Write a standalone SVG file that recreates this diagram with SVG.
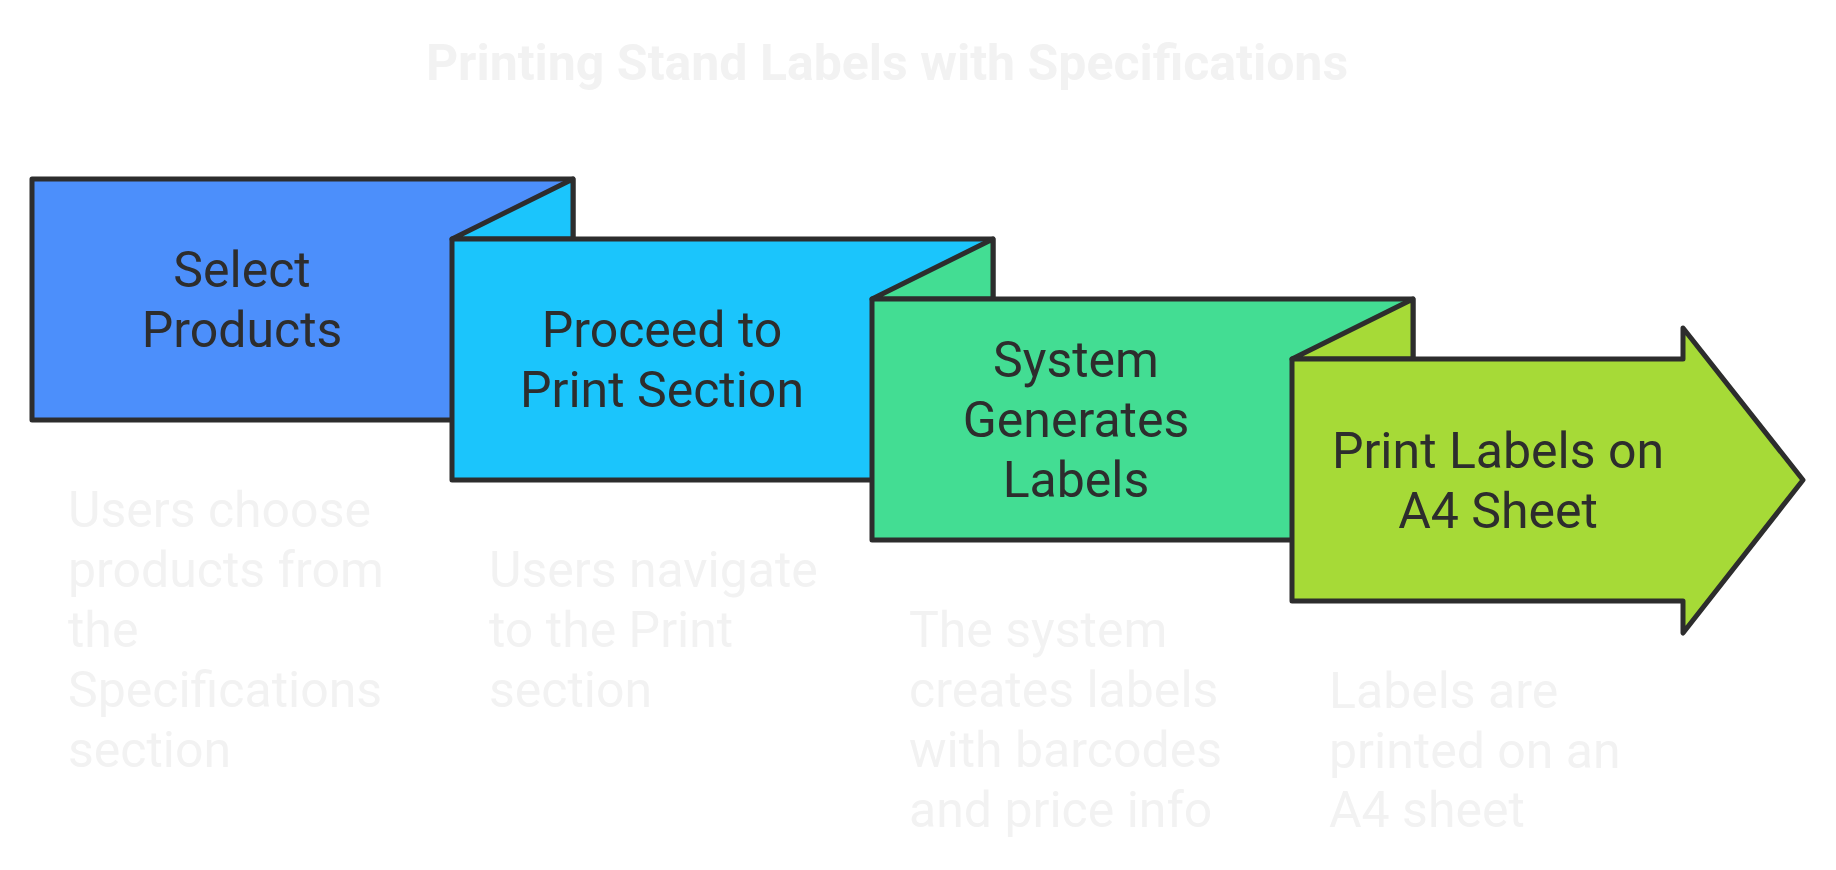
<svg xmlns="http://www.w3.org/2000/svg" width="1836" height="870" viewBox="0 0 1836 870">
<style>
.shape{stroke:#2d2d2d;stroke-width:5;stroke-linejoin:round}
.lbl{font-family:Roboto,"Liberation Sans",sans-serif;font-size:50px;fill:#2d2d2d;text-anchor:middle}
.desc{font-family:Roboto,"Liberation Sans",sans-serif;font-size:50px;fill:#f2f2f2}
.title{font-family:Roboto,"Liberation Sans",sans-serif;font-size:50px;font-weight:bold;fill:#f2f2f2;text-anchor:middle}
</style>
<rect width="1836" height="870" fill="#ffffff"/>
<text class="title" x="887" y="80">Printing Stand Labels with Specifications</text>
<g id="connectors"/>
<g id="node1">
<rect class="shape" x="32" y="179" width="541" height="241" fill="#4c8ffb"/>
<text class="lbl" x="242" y="287">Select</text>
<text class="lbl" x="242" y="347">Products</text>
<text class="desc" x="68" y="527">Users choose</text>
<text class="desc" x="68" y="587">products from</text>
<text class="desc" x="68" y="647">the</text>
<text class="desc" x="68" y="707">Specifications</text>
<text class="desc" x="68" y="767">section</text>
</g>
<g id="node2">
<path class="shape" d="M452,239 L573,179 L573,239 Z" fill="#1bc5fc"/>
<rect class="shape" x="452" y="239" width="541" height="241" fill="#1bc5fc"/>
<text class="lbl" x="662" y="347">Proceed to</text>
<text class="lbl" x="662" y="407">Print Section</text>
<text class="desc" x="489" y="587">Users navigate</text>
<text class="desc" x="489" y="647">to the Print</text>
<text class="desc" x="489" y="707">section</text>
</g>
<g id="node3">
<path class="shape" d="M872,299 L993,239 L993,299 Z" fill="#43dd93"/>
<rect class="shape" x="872" y="299" width="541" height="241" fill="#43dd93"/>
<text class="lbl" x="1076" y="377">System</text>
<text class="lbl" x="1076" y="437">Generates</text>
<text class="lbl" x="1076" y="497">Labels</text>
<text class="desc" x="909" y="647">The system</text>
<text class="desc" x="909" y="707">creates labels</text>
<text class="desc" x="909" y="767">with barcodes</text>
<text class="desc" x="909" y="827">and price info</text>
</g>
<g id="node4">
<path class="shape" d="M1292,359 L1413,299 L1413,359 Z" fill="#a6da37"/>
<path class="shape" d="M1292,359 L1683,359 L1683,328 L1803,480 L1683,633 L1683,601 L1292,601 Z" fill="#a6da37"/>
<text class="lbl" x="1498" y="468">Print Labels on</text>
<text class="lbl" x="1498" y="528">A4 Sheet</text>
<text class="desc" x="1329" y="708">Labels are</text>
<text class="desc" x="1329" y="768">printed on an</text>
<text class="desc" x="1329" y="827">A4 sheet</text>
</g>
</svg>
